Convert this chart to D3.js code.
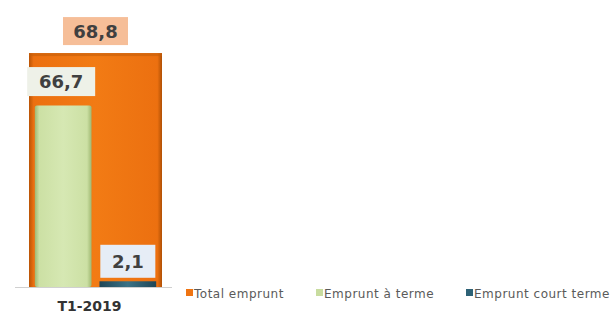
<!DOCTYPE html>
<html><head><meta charset="utf-8">
<script src="https://cdn.jsdelivr.net/npm/d3@7"></script>
<style>body{margin:0;background:#fff}svg{display:block}</style>
</head><body>
<script>
const categories = ["T1-2019"];
const totalEmprunt = [68.8];
const empruntTerme = [66.7];
const empruntCourt = [2.1];
const seriesNames = ["Total emprunt", "Emprunt à terme", "Emprunt court terme"];
const labelFmt = v => String(v).replace(".", ",");

const W = 613, H = 318;
const svg = d3.select("body").append("svg").attr("width", W).attr("height", H);
const baseY = 287, topY = 15;
const y1 = d3.scaleLinear().domain([0, 80]).range([baseY, topY]);
const y2 = d3.scaleLinear().domain([0, 100]).range([baseY, topY]);
const x0 = d3.scaleBand().domain(categories).range([29, 162]).padding(0);
const x1 = d3.scaleBand().domain(["terme", "court"]).range([0, x0.bandwidth()]).paddingInner(0.123).paddingOuter(0.09);

const defs = svg.append("defs");
function grad(id, stops) {
  const g = defs.append("linearGradient").attr("id", id).attr("x1", 0).attr("x2", 1).attr("y1", 0).attr("y2", 0);
  stops.forEach(s => g.append("stop").attr("offset", s[0]).attr("stop-color", s[1]));
}
grad("gO", [[0, "#b95406"], [0.035, "#ec7010"], [0.5, "#f27b14"], [0.965, "#ec7010"], [1, "#b05005"]]);
grad("gG", [[0, "#9fb872"], [0.08, "#cce0a4"], [0.5, "#d6e8b3"], [0.92, "#cce0a4"], [1, "#9fb872"]]);
grad("gT", [[0, "#1f4656"], [0.5, "#3a7286"], [1, "#1f4656"]]);

svg.append("line").attr("x1", 15).attr("x2", 172).attr("y1", baseY + 0.5).attr("y2", baseY + 0.5)
  .attr("stroke", "#d0d0d0").attr("stroke-width", 1);

const g = svg.append("g");
const numFont = "DejaVu Sans, Verdana, sans-serif";
categories.forEach((c, i) => {
  const bx = x0(c);
  g.append("rect").attr("x", bx).attr("width", x0.bandwidth())
    .attr("y", y1(totalEmprunt[i])).attr("height", baseY - y1(totalEmprunt[i]))
    .attr("fill", "url(#gO)");
  g.append("rect").attr("x", bx).attr("width", x0.bandwidth())
    .attr("y", y1(totalEmprunt[i])).attr("height", 3).attr("fill", "#c55d08").attr("opacity", 0.6);
  g.append("rect").attr("x", bx + x1("terme")).attr("width", x1.bandwidth())
    .attr("y", y2(empruntTerme[i])).attr("height", baseY - y2(empruntTerme[i]))
    .attr("fill", "url(#gG)").attr("rx", 2);
  g.append("rect").attr("x", bx + x1("court")).attr("width", x1.bandwidth())
    .attr("y", y2(empruntCourt[i])).attr("height", baseY - y2(empruntCourt[i]))
    .attr("fill", "url(#gT)");

  function label(v, cx, cy, w, h, fill) {
    g.append("rect").attr("x", cx - w / 2).attr("y", cy - h / 2).attr("width", w).attr("height", h).attr("fill", fill);
    g.append("text").attr("x", cx).attr("y", cy).attr("dy", "0.36em").attr("text-anchor", "middle")
      .attr("font-family", numFont).attr("font-weight", "bold")
      .attr("font-size", 18).attr("fill", "#404040").text(labelFmt(v));
  }
  label(totalEmprunt[i], bx + x0.bandwidth() / 2, y1(totalEmprunt[i]) - 22, 65, 28, "#f6be98");
  label(empruntTerme[i], bx + x1("terme") + x1.bandwidth() / 2 - 2, y2(empruntTerme[i]) - 24, 68, 29, "#eef1e8");
  label(empruntCourt[i], bx + x1("court") + x1.bandwidth() / 2, y2(empruntCourt[i]) - 20, 55, 33, "#e6edf6");

  svg.append("text").attr("x", bx + x0.bandwidth() / 2 - 6).attr("y", 311).attr("text-anchor", "middle")
    .attr("font-family", numFont).attr("font-weight", "bold")
    .attr("font-size", 14).attr("fill", "#333").text(c);
});

const legColors = ["#ef7412", "#c8dc9f", "#2e6276"];
const legX = [186, 316, 466];
seriesNames.forEach((n, i) => {
  svg.append("rect").attr("x", legX[i]).attr("y", 289).attr("width", 7).attr("height", 7).attr("fill", legColors[i]);
  svg.append("text").attr("x", legX[i] + 8).attr("y", 297.5)
    .attr("font-family", "DejaVu Sans, Verdana, sans-serif").attr("font-size", 12)
    .attr("letter-spacing", 0.5)
    .attr("fill", "#5a5a5a").text(n);
});
</script>
</body></html>
